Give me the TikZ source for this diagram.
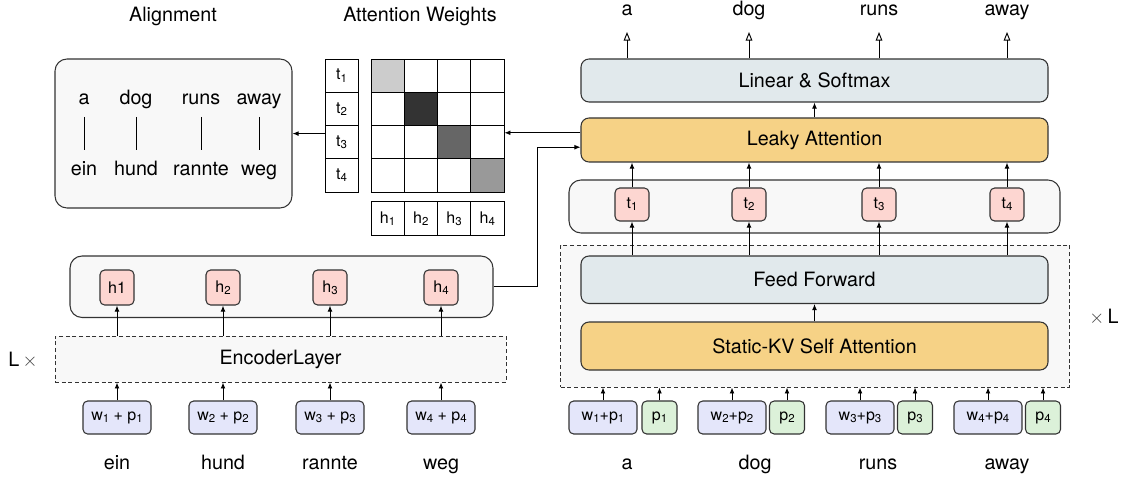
\documentclass[tikz,border=0pt]{standalone}
\usepackage{fontspec}
\setmainfont{TeX Gyre Heros}
\usetikzlibrary{arrows.meta,calc}

\definecolor{boxline}{HTML}{333333}
\definecolor{attnfill}{HTML}{F6D286}
\definecolor{linfill}{HTML}{E1E9EC}
\definecolor{hidfill}{HTML}{FDD6D1}
\definecolor{embfill}{HTML}{E4E6FA}
\definecolor{posfill}{HTML}{DCF1D9}
\definecolor{grpfill}{HTML}{F8F8F8}

% small index digits
\newcommand{\ix}[1]{\raisebox{-0.25ex}{\fontsize{8.6}{9}\selectfont #1}}
\newcommand{\tms}{\textcolor{black!75}{$\times$}}

\begin{document}
\begin{tikzpicture}[x=0.75pt,y=-0.75pt,
    every node/.style={font=\fontsize{14.8}{17}\selectfont},
    word/.style={inner sep=0pt},
    small/.style={font=\fontsize{12}{14}\selectfont},
    blk/.style={draw=boxline,line width=0.8pt,rounded corners=6pt,inner sep=0pt,minimum width=350.25pt},
    grp/.style={draw=boxline,line width=0.8pt,rounded corners=9pt,fill=grpfill,inner sep=0pt},
    dgrp/.style={draw=boxline,line width=0.7pt,dash pattern=on 3pt off 2pt,fill=grpfill,inner sep=0pt},
    tok/.style={small,draw=boxline,line width=0.8pt,rounded corners=3.5pt,inner sep=0pt,minimum height=24.75pt},
    hbox/.style={tok,fill=hidfill,minimum width=25.5pt},
    wbox/.style={tok,fill=embfill,minimum width=51pt},
    pbox/.style={tok,fill=posfill,minimum width=26.25pt},
    cell/.style={small,draw=black,line width=0.7pt,inner sep=0pt,minimum width=24.94pt,minimum height=24.94pt},
    arr/.style={-{Latex[length=4.5pt,width=3.6pt]},line width=0.7pt},
    oarr/.style={-{Triangle[open,length=6.5pt,width=5pt]},line width=0.7pt},
    link/.style={line width=0.7pt}]
\useasboundingbox (0,0) rectangle (1126,477);

% alignment
\node[word,anchor=base] (talign) at (173,22) {Alignment};
\node[word,anchor=base] (tweights) at (420,22) {Attention Weights};
\node[grp,minimum width=177.75pt,minimum height=111.75pt] (algn) at (173.5,133.5) {};
\foreach \n/\x/\e/\g in {1/84/a/ein,2/136/dog/hund,3/201/runs/rannte,4/259/away/weg}{
    \node[word,anchor=base] (ae\n) at (\x,105) {\e};
    \node[word,anchor=base] (ag\n) at (\x,176) {\g};
    \draw[link] ([yshift=-9pt]ae\n.base) -- ([yshift=19.5pt]ag\n.base);
}

% attention weights
\foreach \i/\s in {1/20,2/80,3/60,4/40}{
    \node[cell,minimum width=24.75pt] (tc-\i) at (341.5,{42.375+33.25*\i}) {t\ix{\i}};
    \node[cell] (hc-\i) at ({354.375+33.25*\i},218.5) {h\ix{\i}};
    \foreach \j in {1,...,4}{
        \ifnum\i=\j \def\shade{black!\s}\else \def\shade{white}\fi
        \node[cell,fill=\shade] (m-\i-\j) at ({354.375+33.25*\j},{42.375+33.25*\i}) {};
    }
}
\coordinate (tout) at ($(tc-3.north west)!0.25!(tc-3.south west)$);
\draw[arr] (tout) -- (tout -| algn.east);

% decoder
\node[blk,fill=linfill,minimum height=32.25pt] (lin) at (814.5,80.5) {Linear \& Softmax};
\node[blk,fill=attnfill,minimum height=33pt] (leaky) at (814.5,140) {Leaky Attention};
\node[grp,minimum width=368.25pt,minimum height=39.75pt] (tcon) at (814.5,206.5) {};
\node[dgrp,minimum width=381.75pt,minimum height=106.5pt] (dec) at (815,316) {};
\node[blk,fill=linfill,minimum height=35.6pt] (ff) at (814.5,279.75) {Feed Forward};
\node[blk,fill=attnfill,minimum height=36pt] (skv) at (814.5,346) {Static-KV Self Attention};
\node[word] (xl) at (1104,317) {\tms\,L};
\draw[arr] (skv) -- (ff);
\draw[arr] (leaky) -- (lin);

\foreach \n/\x/\w in {1/627/a,2/749/dog,3/879/runs,4/1007/away}{
    \node[word,anchor=base] (o\n) at (\x,16) {\w};
    \draw[oarr] (o\n |- lin.north) -- ([yshift=-12pt]o\n.base);
}
\foreach \n/\x in {1/632,2/749,3/879,4/1007}{
    \node[hbox,minimum height=24.75pt] (t\n) at (\x,204.5) {t\ix{\n}};
    \draw[arr] (t\n) -- (t\n |- leaky.south);
    \draw[arr] (t\n |- ff.north) -- (t\n);
}
\foreach \n/\x/\y/\v/\w in {1/603/659.5/627/a,2/732/787/755/dog,3/860/915/878/runs,4/988/1043/1007/away}{
    \node[wbox] (dw\n) at (\x,417.5) {w\ix{\n}+p\ix{\n}};
    \node[pbox] (dp\n) at (\y,417.5) {p\ix{\n}};
    \draw[arr] (dw\n) -- (dw\n |- dec.south);
    \draw[arr] (dp\n) -- (dp\n |- dec.south);
    \node[word,anchor=base] (dt\n) at (\v,469) {\w};
}

% encoder
\node[grp,minimum width=317.25pt,minimum height=46.1pt] (hcon) at (281.5,286.75) {};
\node[dgrp,minimum width=338.25pt,minimum height=34.5pt] (enc) at (280.5,359) {EncoderLayer};
\node[word] (lx) at (23,360) {L\,\tms};
\foreach \n/\x/\h/\w in {1/117/h1/ein,2/223/h\ix{2}/hund,3/330/h\ix{3}/rannte,4/441/h\ix{4}/weg}{
    \node[hbox,minimum height=26.25pt] (h\n) at (\x,287.5) {\h};
    \node[wbox] (ew\n) at (\x,417.5) {w\ix{\n} + p\ix{\n}};
    \draw[arr] (ew\n) -- (ew\n |- enc.south);
    \draw[arr] (h\n |- enc.north) -- (h\n);
    \node[word,anchor=base] (st\n) at (\x,469) {\w};
}

% links between parts
\coordinate (lkout) at ($(leaky.north west)!0.34!(leaky.south west)$);
\coordinate (lkin) at ($(leaky.north west)!0.66!(leaky.south west)$);
\draw[arr] (lkout) -- (lkout -| m-1-4.east);
\draw[arr] (hcon.east) -| ($(hcon.east)!0.5!(lkin)$) |- (lkin);
\end{tikzpicture}
\end{document}
